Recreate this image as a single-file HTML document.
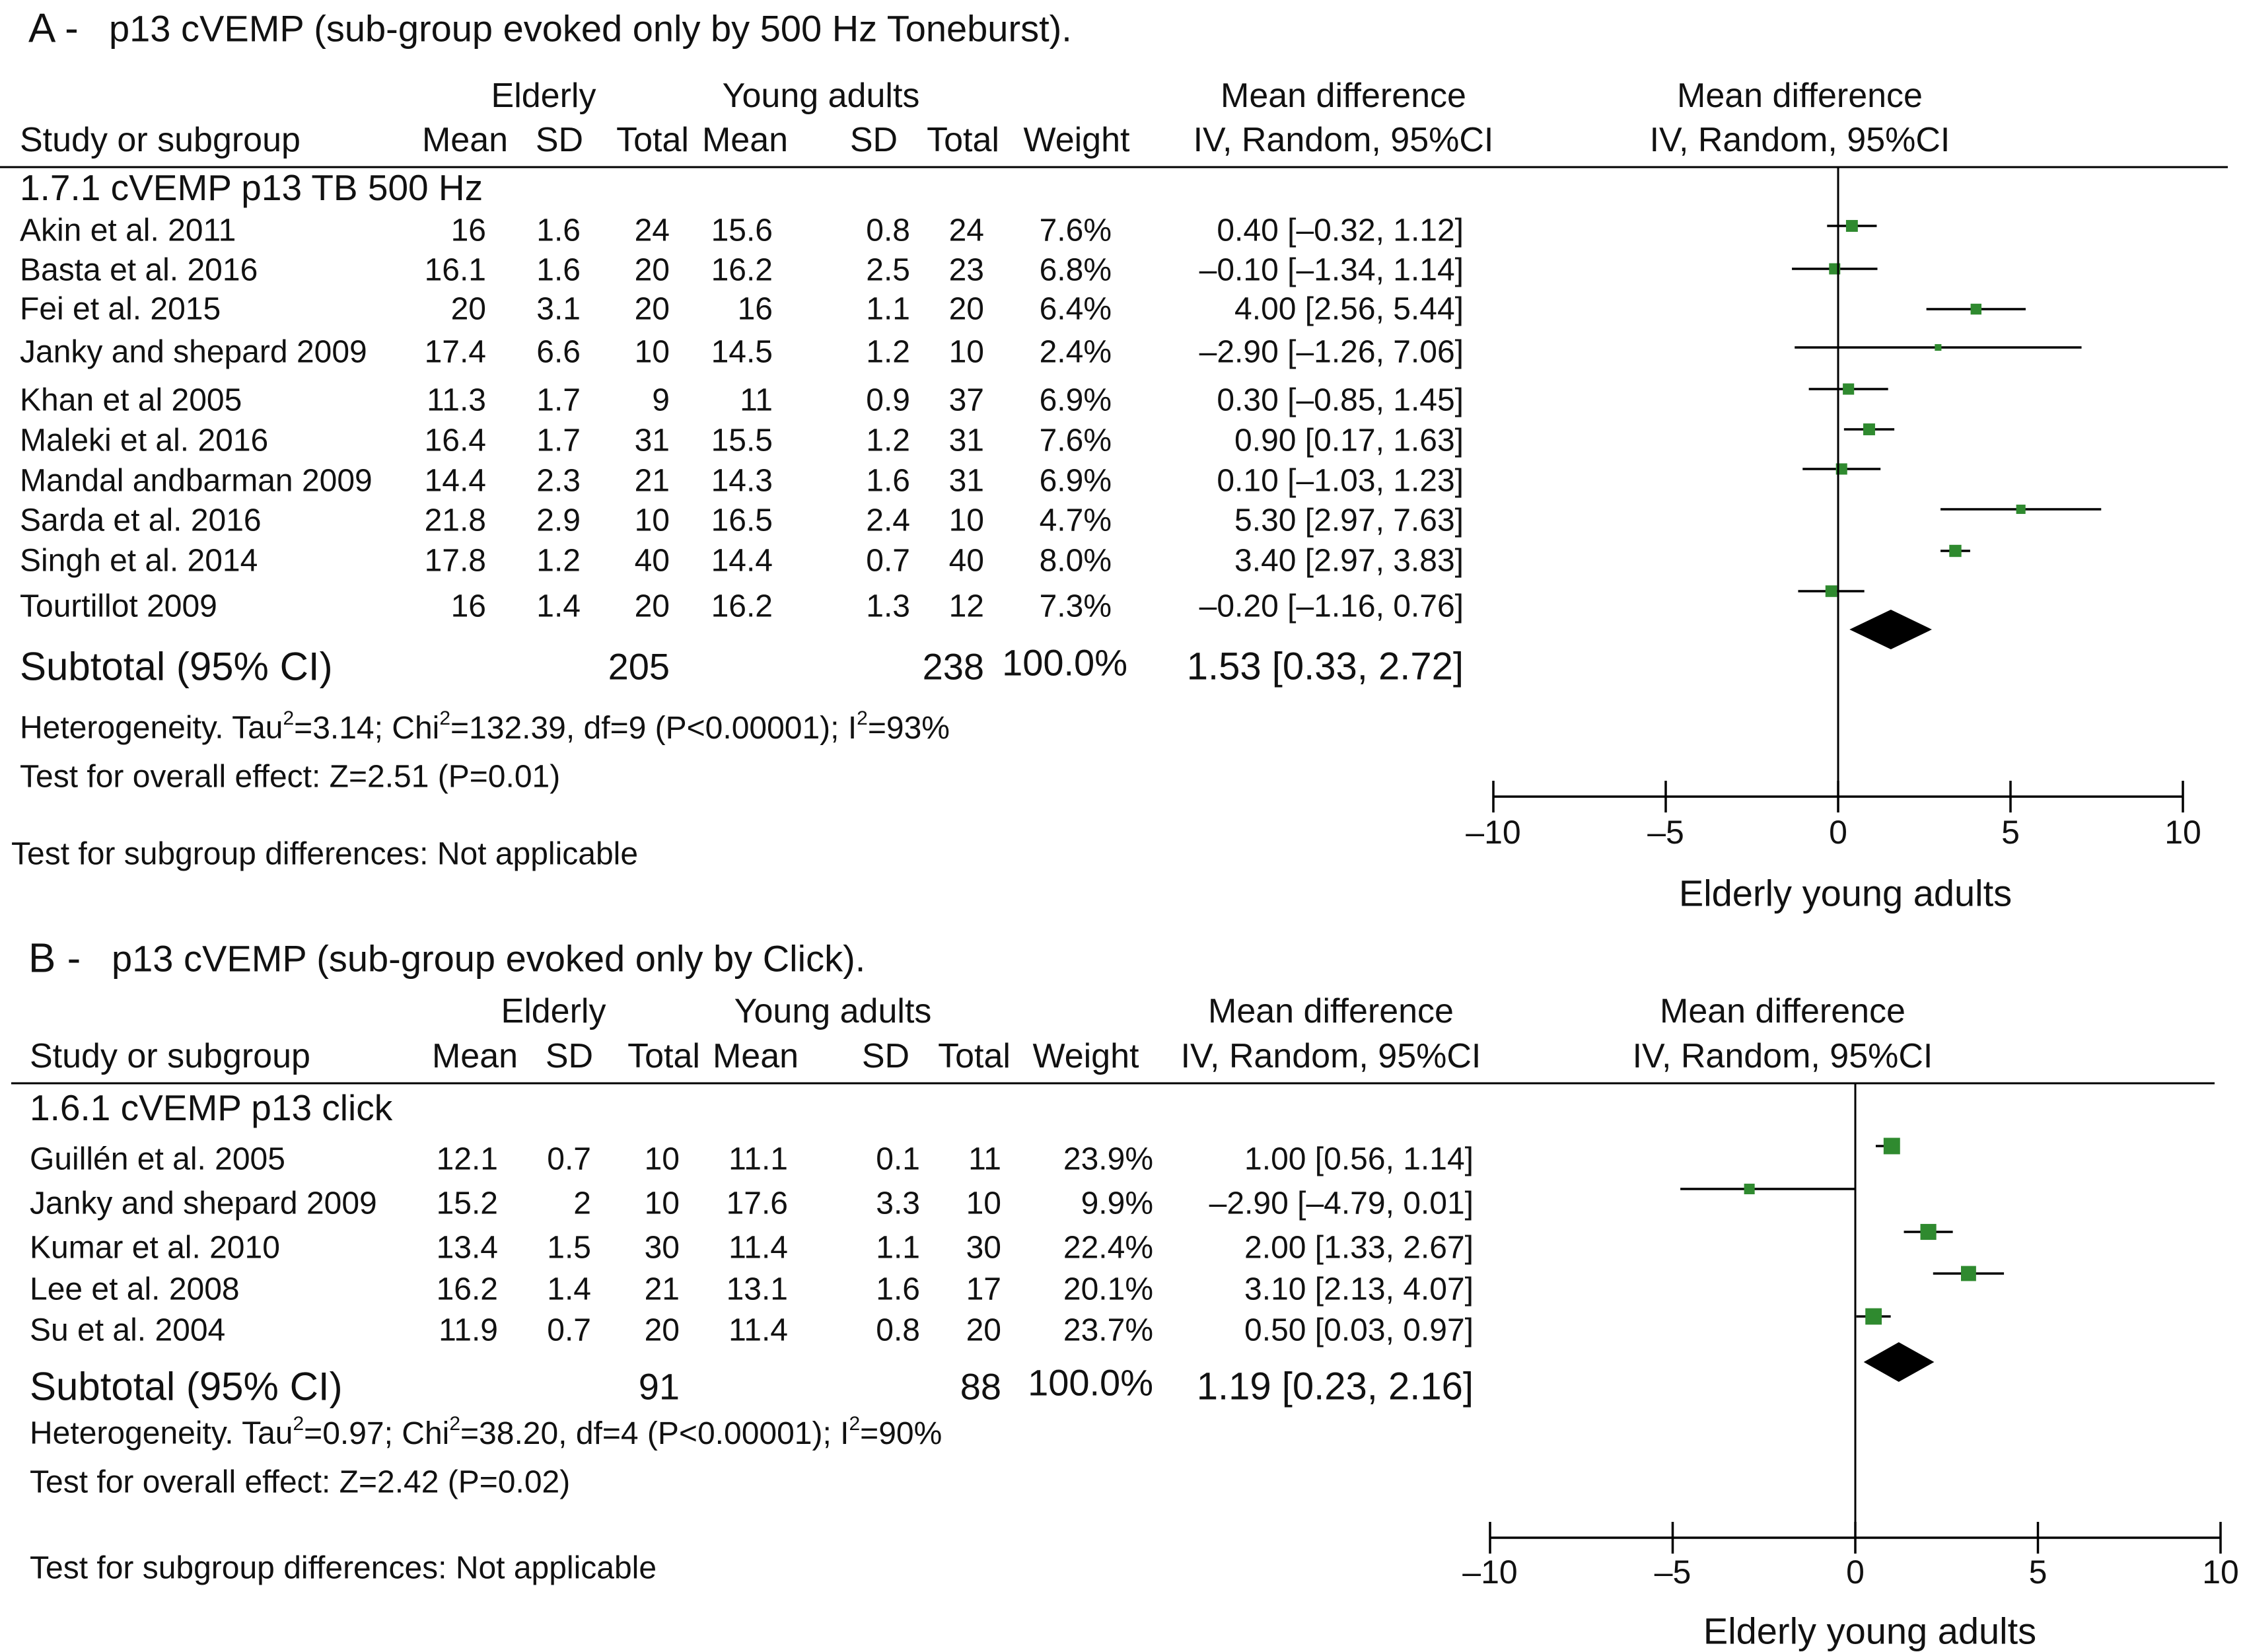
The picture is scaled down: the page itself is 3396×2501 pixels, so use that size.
<!DOCTYPE html>
<html><head><meta charset="utf-8">
<style>
html,body{margin:0;padding:0;background:#fff;}
svg{display:block;font-family:"Liberation Sans",Arial,sans-serif;}
</style></head>
<body>
<svg id="fig" width="3396" height="2501" viewBox="0 0 3396 2501" xmlns="http://www.w3.org/2000/svg"></svg>
<script>
// ---------- Panel A data ----------
const aStudies = ["Akin et al. 2011","Basta et al. 2016","Fei et al. 2015","Janky and shepard 2009","Khan et al 2005","Maleki et al. 2016","Mandal andbarman 2009","Sarda et al. 2016","Singh et al. 2014","Tourtillot 2009"];
const aEMean = ["16","16.1","20","17.4","11.3","16.4","14.4","21.8","17.8","16"];
const aESD = ["1.6","1.6","3.1","6.6","1.7","1.7","2.3","2.9","1.2","1.4"];
const aEN = ["24","20","20","10","9","31","21","10","40","20"];
const aYMean = ["15.6","16.2","16","14.5","11","15.5","14.3","16.5","14.4","16.2"];
const aYSD = ["0.8","2.5","1.1","1.2","0.9","1.2","1.6","2.4","0.7","1.3"];
const aYN = ["24","23","20","10","37","31","31","10","40","12"];
const aWeight = [7.6,6.8,6.4,2.4,6.9,7.6,6.9,4.7,8.0,7.3];
const aMD = [0.40,-0.10,4.00,2.90,0.30,0.90,0.10,5.30,3.40,-0.20];
const aLo = [-0.32,-1.34,2.56,-1.26,-0.85,0.17,-1.03,2.97,2.97,-1.16];
const aHi = [1.12,1.14,5.44,7.06,1.45,1.63,1.23,7.63,3.83,0.76];
const aMDText = ["0.40 [–0.32, 1.12]","–0.10 [–1.34, 1.14]","4.00 [2.56, 5.44]","–2.90 [–1.26, 7.06]","0.30 [–0.85, 1.45]","0.90 [0.17, 1.63]","0.10 [–1.03, 1.23]","5.30 [2.97, 7.63]","3.40 [2.97, 3.83]","–0.20 [–1.16, 0.76]"];
const aPooled = [1.53, 0.33, 2.72];
const aTicks = [-10,-5,0,5,10];
const aTickLabels = ["–10","–5","0","5","10"];

// ---------- Panel B data ----------
const bStudies = ["Guillén et al. 2005","Janky and shepard 2009","Kumar et al. 2010","Lee et al. 2008","Su et al. 2004"];
const bEMean = ["12.1","15.2","13.4","16.2","11.9"];
const bESD = ["0.7","2","1.5","1.4","0.7"];
const bEN = ["10","10","30","21","20"];
const bYMean = ["11.1","17.6","11.4","13.1","11.4"];
const bYSD = ["0.1","3.3","1.1","1.6","0.8"];
const bYN = ["11","10","30","17","20"];
const bWeight = [23.9,9.9,22.4,20.1,23.7];
const bMD = [1.00,-2.90,2.00,3.10,0.50];
const bLo = [0.56,-4.79,1.33,2.13,0.03];
const bHi = [1.14,0.01,2.67,4.07,0.97];
const bMDText = ["1.00 [0.56, 1.14]","–2.90 [–4.79, 0.01]","2.00 [1.33, 2.67]","3.10 [2.13, 4.07]","0.50 [0.03, 0.97]"];
const bPooled = [1.19, 0.23, 2.16];
const bTicks = [-10,-5,0,5,10];
const bTickLabels = ["–10","–5","0","5","10"];

const NS = "http://www.w3.org/2000/svg";
const svg = document.getElementById('fig');
function mk(tag, attrs, parent){
  const e = document.createElementNS(NS, tag);
  for (const k in attrs) e.setAttribute(k, attrs[k]);
  (parent||svg).appendChild(e);
  return e;
}
function txt(s, x, y, size, anchor, parent){
  const t = mk('text', {x:x, y:y, 'font-size':size, 'text-anchor':anchor||'start', 'dominant-baseline':'central', fill:'#111'}, parent);
  t.textContent = s;
  return t;
}

function panel(cfg){
  const g = mk('g', {});
  
  
  const L = cfg.L;
  const ti = txt(cfg.letter, L.titleX, L.titleY, 62, 'start', g);
  
  
  const tt = txt(cfg.title, L.titleTextX, L.titleY, 56, 'start', g);
  
  
  const H = 52;
  const hdr = mk('g', {}, g);
  
  
  txt('Elderly', L.elderlyX, L.h1, H, 'middle', hdr);
  txt('Young adults', L.youngX, L.h1, H, 'middle', hdr);
  txt('Mean difference', L.mdX, L.h1, H, 'middle', hdr);
  txt('Mean difference', L.mdPX, L.h1, H, 'middle', hdr);
  txt('Study or subgroup', L.nameX, L.h2, H, 'start', hdr);
  txt('Mean', L.c[0], L.h2, H, 'middle', hdr);
  txt('SD', L.c[1], L.h2, H, 'middle', hdr);
  txt('Total', L.c[2], L.h2, H, 'middle', hdr);
  txt('Mean', L.c[3], L.h2, H, 'middle', hdr);
  txt('SD', L.c[4], L.h2, H, 'middle', hdr);
  txt('Total', L.c[5], L.h2, H, 'middle', hdr);
  txt('Weight', L.c[6], L.h2, H, 'middle', hdr);
  txt('IV, Random, 95%CI', L.mdX, L.h2, H, 'middle', hdr);
  txt('IV, Random, 95%CI', L.mdPX, L.h2, H, 'middle', hdr);
  const hl = mk('line', {x1:L.lineX1, x2:L.lineX2, y1:L.lineY, y2:L.lineY, stroke:'#000', 'stroke-width':3}, g);
  
  
  const sg = txt(cfg.subgroup, L.nameX, L.sgY, 55, 'start', g);
  
  

  const xs = v => L.zeroX + v * L.ppu;
  const D = cfg.data;
  for (let i = 0; i < D.studies.length; i++){
    const y = L.textY[i];
    const row = mk('g', {}, g);
    
    
    txt(D.studies[i], L.nameX, y, 48, 'start', row);
    const cols = [D.eMean[i], D.eSD[i], D.eN[i], D.yMean[i], D.ySD[i], D.yN[i], D.weight[i].toFixed(1) + '%'];
    for (let j = 0; j < cols.length; j++) txt(cols[j], L.r[j], y, 48, 'end', row);
    txt(D.mdText[i], L.mdR, y, 48, 'end', row);
    const my = L.markY[i];
    const ci = mk('line', {x1:xs(D.lo[i]), x2:xs(D.hi[i]), y1:my, y2:my, stroke:'#000', 'stroke-width':3.5}, g);
    
    
    const s = L.sizeK * Math.sqrt(D.weight[i]);
    const sq = mk('rect', {x:xs(D.md[i]) - s/2, y:my - s/2, width:s, height:s, fill:'#2f8a2f'}, g);
    
    
  }
  const st = mk('g', {}, g);
  
  
  txt('Subtotal (95% CI)', L.nameX, L.subY, 60, 'start', st);
  txt(cfg.totE, L.r[2], L.subY, 56, 'end', st);
  txt(cfg.totY, L.r[5], L.subY, 56, 'end', st);
  txt('100.0%', L.pctR, L.subY - 6, 56, 'end', st);
  txt(cfg.pooledText, L.mdR, L.subY, 58, 'end', st);
  const P = cfg.pooled, dy = L.diaY, dh = 30;
  const dia = mk('polygon', {points:`${xs(P[1])},${dy} ${xs(P[0])},${dy-dh} ${xs(P[2])},${dy} ${xs(P[0])},${dy+dh}`, fill:'#000'}, g);
  
  
  const het = mk('text', {x:L.nameX, y:L.hetY, 'font-size':48, 'dominant-baseline':'central', fill:'#111'}, g);
  
  
  het.innerHTML = `Heterogeneity. Tau<tspan dy="-15" font-size="30">2</tspan><tspan dy="15">=${cfg.tau}; Chi</tspan><tspan dy="-15" font-size="30">2</tspan><tspan dy="15">=${cfg.chi}, df=${cfg.df} (P&lt;0.00001); I</tspan><tspan dy="-15" font-size="30">2</tspan><tspan dy="15">=${cfg.i2}%</tspan>`;
  const ov = txt(cfg.overall, L.nameX, L.ovY, 48, 'start', g);
  
  
  const sd = txt('Test for subgroup differences: Not applicable', L.sdX, L.sdY, 48, 'start', g);
  
  
  const zl = mk('line', {x1:xs(0), x2:xs(0), y1:L.lineY, y2:L.axisY, stroke:'#000', 'stroke-width':3}, g);
  
  
  const ax = mk('g', {}, g);
  
  
  const t = cfg.ticks;
  mk('line', {x1:xs(t[0]), x2:xs(t[t.length-1]), y1:L.axisY, y2:L.axisY, stroke:'#000', 'stroke-width':3.5}, ax);
  for (let k = 0; k < t.length; k++){
    const tk = mk('line', {x1:xs(t[k]), x2:xs(t[k]), y1:L.axisY - 24, y2:L.axisY + 24, stroke:'#000', 'stroke-width':3.5}, ax);
    
    
    const tl = txt(cfg.tickLabels[k], xs(t[k]), L.tickLabY, 50, 'middle', ax);
    
    
  }
  const xt = txt('Elderly young adults', L.axTitleX, L.axTitleY, 56, 'middle', g);
  
  
}

panel({
  name:'panel-a', letter:'A -', title:'p13 cVEMP (sub-group evoked only by 500 Hz Toneburst).',
  subgroup:'1.7.1 cVEMP p13 TB 500 Hz',
  data:{studies:aStudies, eMean:aEMean, eSD:aESD, eN:aEN, yMean:aYMean, ySD:aYSD, yN:aYN, weight:aWeight, md:aMD, lo:aLo, hi:aHi, mdText:aMDText},
  pooled:aPooled, pooledText:'1.53 [0.33, 2.72]', totE:'205', totY:'238',
  tau:'3.14', chi:'132.39', df:'9', i2:'93', overall:'Test for overall effect: Z=2.51 (P=0.01)',
  ticks:aTicks, tickLabels:aTickLabels,
  L:{titleX:43, titleTextX:165, titleY:43, h1:145, h2:212, nameX:30,
     elderlyX:823, youngX:1243, mdX:2034, mdPX:2725,
     c:[704,847,988,1128,1323,1458,1630],
     r:[736,879,1014,1170,1378,1490,1683], mdR:2216, pctR:1707,
     lineX1:0, lineX2:3373, lineY:253, sgY:284,
     textY:[349,409,468,533,606,667,728,788,849,918],
     markY:[342,407,468,526,589,650,710,771,834,895],
     zeroX:2783, ppu:52.2, sizeK:6.5,
     subY:1009, diaY:953, hetY:1102, ovY:1176, sdX:17, sdY:1293,
     axisY:1206, tickLabY:1260, axTitleX:2794, axTitleY:1352}
});

panel({
  name:'panel-b', letter:'B -', title:'p13 cVEMP (sub-group evoked only by Click).',
  subgroup:'1.6.1 cVEMP p13 click',
  data:{studies:bStudies, eMean:bEMean, eSD:bESD, eN:bEN, yMean:bYMean, ySD:bYSD, yN:bYN, weight:bWeight, md:bMD, lo:bLo, hi:bHi, mdText:bMDText},
  pooled:bPooled, pooledText:'1.19 [0.23, 2.16]', totE:'91', totY:'88',
  tau:'0.97', chi:'38.20', df:'4', i2:'90', overall:'Test for overall effect: Z=2.42 (P=0.02)',
  ticks:bTicks, tickLabels:bTickLabels,
  L:{titleX:43, titleTextX:169, titleY:1451, h1:1531, h2:1599, nameX:45,
     elderlyX:838, youngX:1261, mdX:2015, mdPX:2699,
     c:[719,862,1005,1144,1341,1475,1644],
     r:[754,895,1029,1193,1393,1516,1746], mdR:2231, pctR:1746,
     lineX1:17, lineX2:3353, lineY:1640, sgY:1677,
     textY:[1755,1822,1889,1952,2014],
     markY:[1735,1800,1865,1928,1993],
     zeroX:2809, ppu:55.3, sizeK:5.1,
     subY:2099, diaY:2062, hetY:2170, ovY:2244, sdX:45, sdY:2374,
     axisY:2328, tickLabY:2380, axTitleX:2831, axTitleY:2469}
});
</script>
</body></html>
